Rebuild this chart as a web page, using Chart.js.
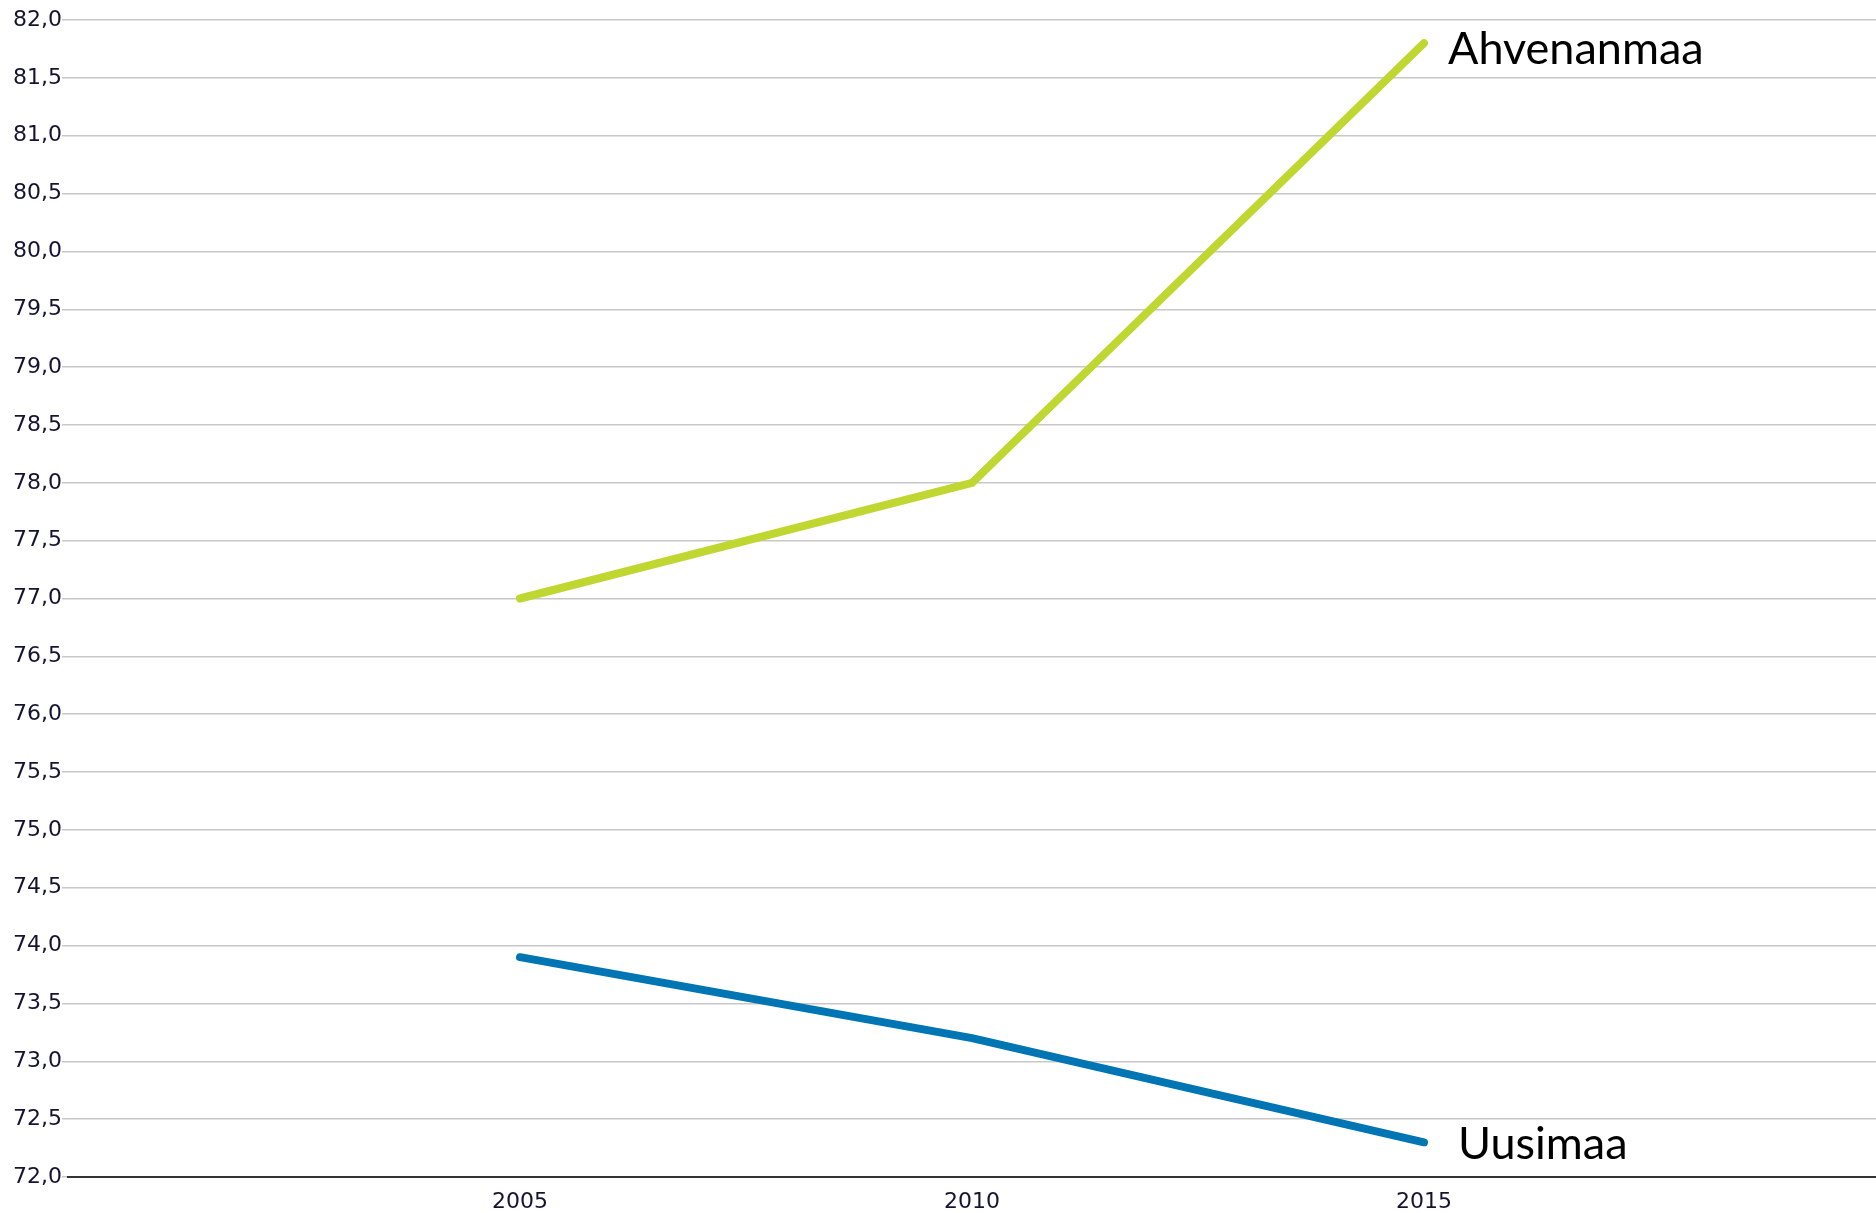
<!DOCTYPE html>
<html>
<head>
<meta charset="utf-8">
<script src="https://cdn.jsdelivr.net/npm/chart.js@4"></script>
<style>
  html, body { margin: 0; padding: 0; background: #fff; }
  #wrap { width: 1876px; height: 1213px; }
</style>
</head>
<body>
<div id="wrap"><canvas id="chart"></canvas></div>
<script>
const years = [2005, 2010, 2015];
const ahvenanmaa = [77.0, 78.0, 81.8];
const uusimaa = [73.9, 73.2, 72.3];
const seriesNames = ['Ahvenanmaa', 'Uusimaa'];

// name next to the last point of each line
const endLabels = {
  id: 'endLabels',
  afterDatasetsDraw(chart) {
    const ctx = chart.ctx;
    ctx.save();
    ctx.font = '45px Lato, "Open Sans", sans-serif';
    ctx.fillStyle = '#000';
    ctx.textBaseline = 'middle';
    chart.data.datasets.forEach((ds, i) => {
      const pts = chart.getDatasetMeta(i).data;
      const p = pts[pts.length - 1];
      const dx = i === 0 ? 24 : 34;
      const dy = i === 0 ? 6 : 2;
      ctx.fillText(ds.label, p.x + dx, p.y + dy);
    });
    ctx.restore();
  }
};

const toPoints = (vals) => vals.map((v, i) => ({ x: years[i], y: v }));
const tickFont = '"DejaVu Sans", Verdana, sans-serif';

new Chart(document.getElementById('chart'), {
  type: 'line',
  data: {
    datasets: [{
      label: seriesNames[0],
      data: toPoints(ahvenanmaa),
      borderColor: '#bfd730',
      borderWidth: 8,
      borderCapStyle: 'round',
      pointRadius: 0,
      tension: 0
    }, {
      label: seriesNames[1],
      data: toPoints(uusimaa),
      borderColor: '#0075b4',
      borderWidth: 8,
      borderCapStyle: 'round',
      pointRadius: 0,
      tension: 0
    }]
  },
  options: {
    responsive: true,
    maintainAspectRatio: false,
    animation: false,
    layout: { padding: { top: 20, right: 0, left: 0, bottom: 0 } },
    plugins: {
      legend: { display: false },
      tooltip: { enabled: false }
    },
    scales: {
      x: {
        type: 'linear',
        min: 2000,
        max: 2020,
        afterBuildTicks(axis) {
          axis.ticks = years.map(v => ({ value: v }));
        },
        afterFit(axis) { axis.height = 36; },
        grid: { display: false },
        border: { display: true, color: '#333', width: 2 },
        ticks: {
          color: '#141432',
          font: { family: tickFont, size: 22 },
          padding: 4,
          callback: (v) => String(v)
        }
      },
      y: {
        min: 72,
        max: 82,
        afterFit(axis) { axis.width = 68; },
        border: { display: false },
        grid: { color: '#c8c8c8', lineWidth: 1.5, tickLength: 6 },
        ticks: {
          stepSize: 0.5,
          color: '#141432',
          padding: 0,
          font: { family: tickFont, size: 22 },
          callback: (v) => v.toFixed(1).replace('.', ',')
        }
      }
    }
  },
  plugins: [endLabels]
});
</script>
</body>
</html>
